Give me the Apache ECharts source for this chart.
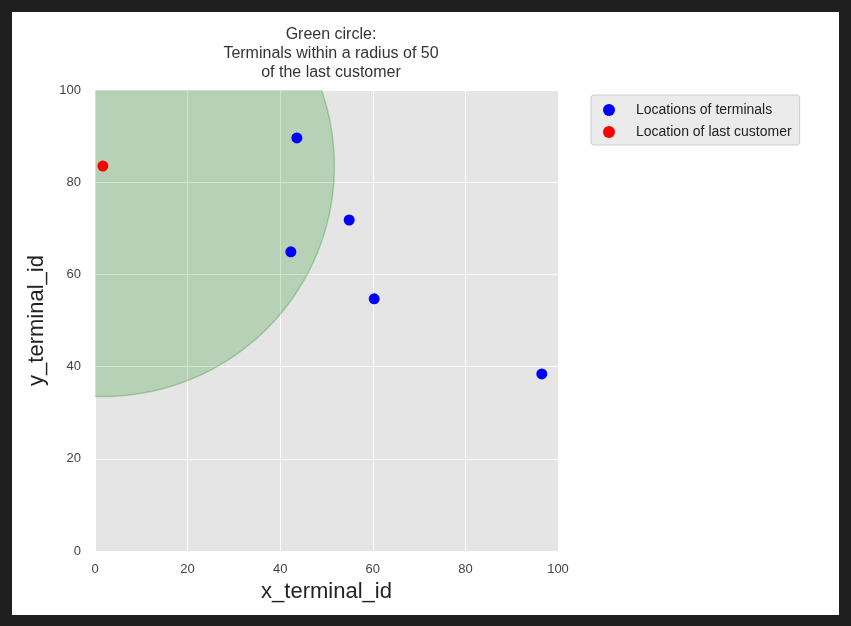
<!DOCTYPE html>
<html><head><meta charset="utf-8">
<script src="https://cdn.jsdelivr.net/npm/echarts@6/dist/echarts.min.js"></script>
<style>
body{margin:0;background:#1e1e1e;width:851px;height:626px;overflow:hidden}
#frame{position:absolute;left:12px;top:12px;width:827px;height:603px;background:#fff}
#c{width:827px;height:603px}
</style></head><body>
<div id="frame"><div id="c"></div></div>
<script>
// terminal locations
var terminalX = [43.6, 54.9, 42.3, 60.3, 96.5];
var terminalY = [89.6, 71.8, 64.9, 54.7, 38.4];
// last customer
var customerX = [1.7];
var customerY = [83.5];
var radius = 50;

var chart = echarts.init(document.getElementById('c'));
var terminals = terminalX.map(function (x, i) { return [x, terminalY[i]]; });
var customers = customerX.map(function (x, i) { return [x, customerY[i]]; });

var option = {
  animation: false,
  textStyle: { fontFamily: 'Liberation Sans' },
  title: {
    text: 'Green circle:\nTerminals within a radius of 50\nof the last customer',
    left: 314, top: 8, textAlign: 'center',
    textStyle: { fontSize: 16, fontWeight: 'normal', color: '#333', lineHeight: 19, fontFamily: 'Liberation Sans' }
  },
  legend: {
    orient: 'vertical', left: 579, top: 83, padding: [8, 8, 6, 12],
    backgroundColor: '#ebebeb', borderColor: '#cccccc', borderWidth: 1, borderRadius: 3,
    itemGap: 8, itemWidth: 12, itemHeight: 12,
    textStyle: { fontSize: 14, color: '#222', padding: [0, 0, 0, 16] },
    data: [{ name: 'Locations of terminals', icon: 'circle' }, { name: 'Location of last customer', icon: 'circle' }]
  },
  grid: {
    left: 83, top: 78, width: 463, height: 461, show: true,
    backgroundColor: '#e5e5e5', borderWidth: 0
  },
  xAxis: {
    type: 'value', min: 0, max: 100, interval: 20,
    name: 'x_terminal_id', nameLocation: 'middle', nameGap: 30,
    nameTextStyle: { fontSize: 22, color: '#222' },
    axisLine: { show: false }, axisTick: { show: false },
    axisLabel: { fontSize: 13, color: '#444', margin: 12 },
    splitLine: { lineStyle: { color: '#fff', width: 1 } }
  },
  yAxis: {
    type: 'value', min: 0, max: 100, interval: 20,
    name: 'y_terminal_id', nameLocation: 'middle', nameGap: 45,
    nameTextStyle: { fontSize: 22, color: '#222' },
    axisLine: { show: false }, axisTick: { show: false },
    axisLabel: { fontSize: 13, color: '#444', margin: 14 },
    splitLine: { lineStyle: { color: '#fff', width: 1 } }
  },
  series: [
    {
      type: 'custom', silent: true, z: 1,
      data: customers,
      renderItem: function (params, api) {
        var cx = api.value(0), cy = api.value(1);
        var pts = [];
        for (var a = 0; a <= 360; a += 2) {
          var t = a * Math.PI / 180;
          pts.push(api.coord([cx + radius * Math.cos(t), cy + radius * Math.sin(t)]));
        }
        var cs = params.coordSys;
        return {
          type: 'polygon',
          shape: { points: pts },
          clipPath: { type: 'rect', shape: { x: cs.x, y: cs.y, width: cs.width, height: cs.height } },
          style: { fill: 'rgba(0,128,0,0.2)', stroke: 'rgba(0,128,0,0.25)', lineWidth: 1.5 }
        };
      }
    },
    {
      name: 'Locations of terminals', type: 'scatter', z: 3,
      symbolSize: 11, itemStyle: { color: '#0000ff', opacity: 1 }, data: terminals
    },
    {
      name: 'Location of last customer', type: 'scatter', z: 3,
      symbolSize: 11, itemStyle: { color: '#ff0000', opacity: 1 }, data: customers
    }
  ]
};
chart.setOption(option);
</script>
</body></html>
